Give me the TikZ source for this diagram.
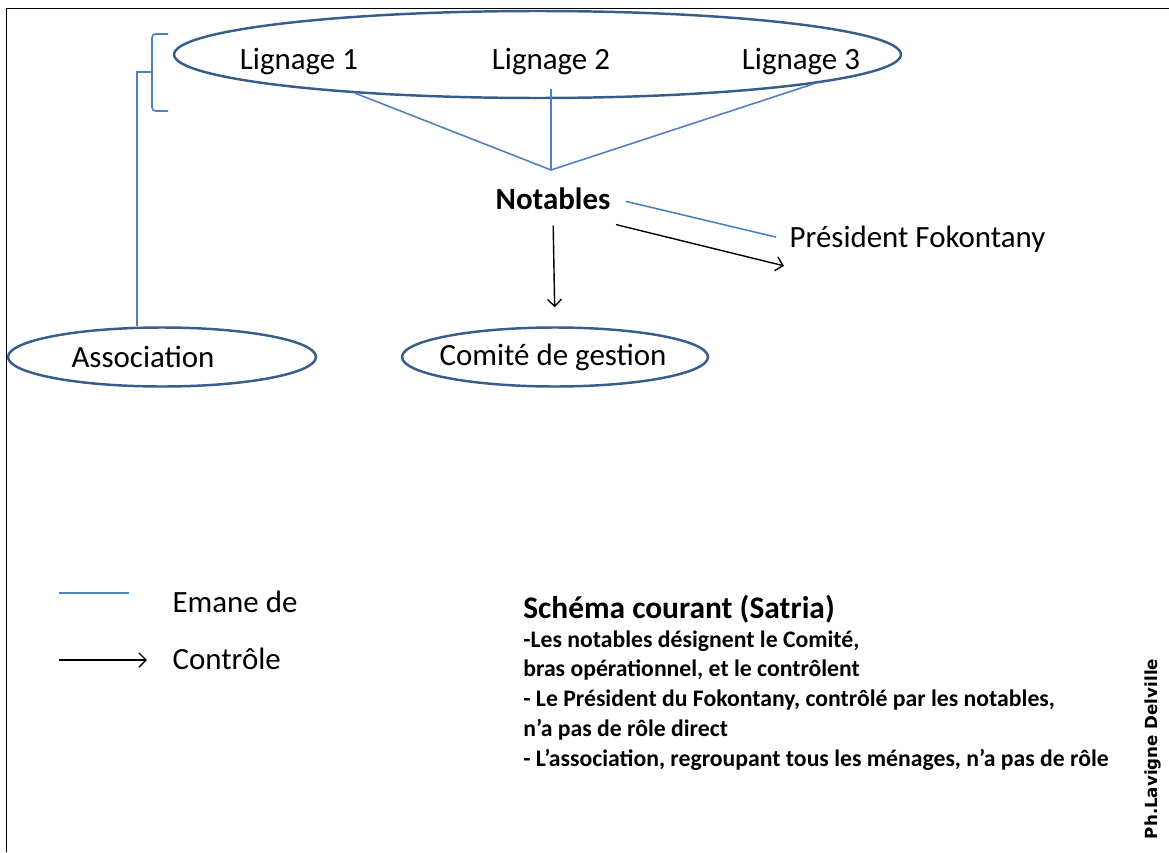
\documentclass[tikz,border=0pt]{standalone}
\usepackage{fontspec}
\setmainfont{Carlito}
\newfontfamily\creditfont{DejaVu Sans}
\usepackage{tikz}
\usetikzlibrary{shapes.geometric,arrows.meta}

\definecolor{emaneblue}{RGB}{79,129,189}
\definecolor{ellblue}{RGB}{56,93,138}

\tikzset{
  lbl/.style={font=\fontsize{17.6}{20}\selectfont, inner sep=3pt},
  ell/.style={ellipse, draw=ellblue, line width=1.4pt, inner sep=0pt},
  emane/.style={draw=emaneblue, line width=0.9pt},
  controle/.style={draw=black, line width=0.8pt, -{Straight Barb[length=4pt,width=8pt]}}
}

\begin{document}
\begin{tikzpicture}[x=0.02cm, y=-0.02cm]
  \useasboundingbox (0,0) rectangle (1169,852);
  % cadre
  \draw[line width=1.1pt] (6.5,852) -- (6.5,8.5) -- (1169,8.5);

  % Lignages
  \node[ell, minimum width=14.54cm, minimum height=1.74cm] (lignages) at (537.5,54.5) {};
  \node[lbl] (lig1) at (299,62) {Lignage 1};
  \node[lbl] (lig2) at (551,62) {Lignage 2};
  \node[lbl] (lig3) at (801,62) {Lignage 3};
  \coordinate (apex) at (551,170);
  \draw[emane] (lignages.192) -- (apex) -- (lignages.354);
  \draw[emane, shorten <=0.16cm] (lig2.south) -- (apex);

  % Notables
  \node[lbl, font=\fontsize{17.6}{20}\selectfont\bfseries] (notables) at (553,199) {Notables};
  \node[lbl, anchor=west] (president) at (784,239) {Président Fokontany};
  \draw[emane, shorten <=0.2cm, shorten >=0.16cm] (notables.east) -- (president.west);
  \draw[controle] ([yshift=-0.18cm]notables.south east) -- ([yshift=-0.16cm]president.south west);

  % Association et Comite
  \node[ell, minimum width=6.16cm, minimum height=1.18cm] (assoc) at (162,357) {};
  \node[lbl] (assoctxt) at (143,357) {Association};
  \node[ell, minimum width=6.12cm, minimum height=1.18cm] (comite) at (555,357) {};
  \node[lbl] (comitetxt) at (553,357) {Comité de gestion};
  \draw[controle, shorten <=0.2cm, shorten >=0.38cm] (notables.south) -- (comite.north);

  % accolade
  \coordinate (brace) at (152,72);
  \draw[emane, rounded corners=2pt] (168,34) -- (152,34) -- (152,111) -- (168,111);
  \draw[emane] (brace) -| ([xshift=-0.5cm]assoc.north);

  % legende
  \coordinate (lgA) at (59,593);
  \coordinate (lgB) at (59,660);
  \draw[emane] (lgA) -- ++(70,0);
  \node[lbl, anchor=west] (emanetxt) at (167,602) {Emane de};
  \draw[controle] (lgB) -- ++(88,0);
  \node[lbl, anchor=west] (controletxt) at (167,659) {Contrôle};

  % commentaire
  \node[anchor=base west, inner sep=0pt, font=\fontsize{17.9}{20}\selectfont\bfseries] (titre) at (523,618) {Schéma courant (Satria)};
  \node[anchor=north west, inner sep=0pt, align=left, font=\fontsize{13.5}{17}\selectfont\bfseries] (texte) at (523,630)
    {-Les notables désignent le Comité,\\
     bras opérationnel,  et le contrôlent\\
     - Le Président  du Fokontany, contrôlé par les notables,\\
     n’a pas de rôle direct\\
     - L’association, regroupant tous les ménages,  n’a pas de rôle};

  \node[rotate=90, inner sep=0pt, font=\creditfont\fontsize{9.5}{11}\selectfont\bfseries] (credit) at (1153,749) {Ph.Lavigne Delville};
\end{tikzpicture}
\end{document}
